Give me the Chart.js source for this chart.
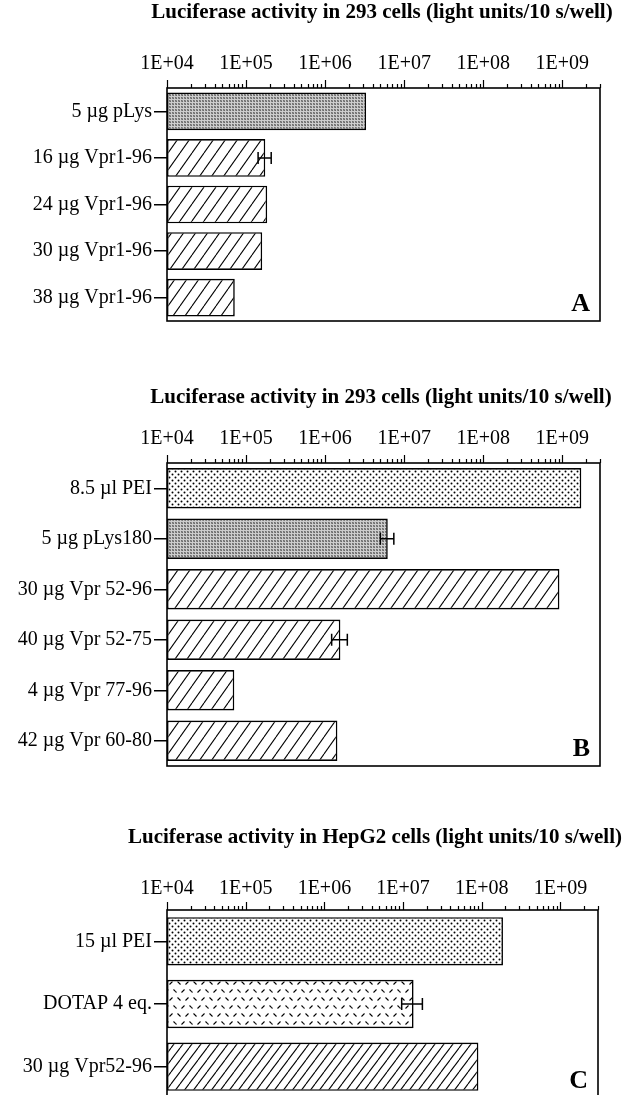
<!DOCTYPE html>
<html>
<head>
<meta charset="utf-8">
<script src="https://cdn.jsdelivr.net/npm/chart.js@4.4.1/dist/chart.umd.min.js"></script>
<style>
  html, body { margin: 0; padding: 0; background: #fff; width: 622px; height: 1095px; overflow: hidden; }
  canvas { position: absolute; left: 0; }
</style>
</head>
<body>
<canvas id="panelA" width="622" height="335" style="top:0px"></canvas>
<canvas id="panelB" width="622" height="400" style="top:380px"></canvas>
<canvas id="panelC" width="622" height="292" style="top:820px"></canvas>
<script>
// ---- data ----
const decadeValues = [1e4, 1e5, 1e6, 1e7, 1e8, 1e9];
const decadeLabels = ['1E+04', '1E+05', '1E+06', '1E+07', '1E+08', '1E+09'];
const axisMin = 1e4;
const axisMax = 3e9;

const titleA = 'Luciferase activity in 293 cells (light units/10 s/well)';
const categoriesA = ['5 µg pLys', '16 µg Vpr1-96', '24 µg Vpr1-96', '30 µg Vpr1-96', '38 µg Vpr1-96'];
const valuesA = [3.3e6, 1.75e5, 1.85e5, 1.6e5, 7.2e4];
const errorsA = [0, 3.3e4, 0, 0, 0];

const titleB = 'Luciferase activity in 293 cells (light units/10 s/well)';
const categoriesB = ['8.5 µl PEI', '5 µg pLys180', '30 µg Vpr 52-96', '40 µg Vpr 52-75', '4 µg Vpr 77-96', '42 µg Vpr 60-80'];
const valuesB = [1.74e9, 6.2e6, 9.2e8, 1.56e6, 7.1e4, 1.43e6];
const errorsB = [0, 1.2e6, 0, 3.5e5, 0, 0];

const titleC = 'Luciferase activity in HepG2 cells (light units/10 s/well)';
const categoriesC = ['15 µl PEI', 'DOTAP 4 eq.', '30 µg Vpr52-96'];
const valuesC = [1.86e8, 1.36e7, 9.06e7];
const errorsC = [0, 4e6, 0];

const panelLetters = ['A', 'B', 'C'];

// ---- fill patterns ----
const SERIF = '"Liberation Serif", "Times New Roman", serif';

function tile(w, h, paint) {
  const c = document.createElement('canvas');
  c.width = w; c.height = h;
  const g = c.getContext('2d');
  g.fillStyle = '#fff';
  g.fillRect(0, 0, w, h);
  paint(g, w, h);
  return c;
}

function meshTile() {
  // fine grey mesh (poly-lysine)
  const levels = [
    [205, 205, 205],
    [205, 110, 142],
    [205, 136, 105]
  ];
  return tile(3, 3, (g) => {
    const img = g.createImageData(3, 3);
    for (let r = 0; r < 3; r++) for (let c = 0; c < 3; c++) {
      const k = (r * 3 + c) * 4, v = levels[r][c];
      img.data[k] = v; img.data[k + 1] = v; img.data[k + 2] = v; img.data[k + 3] = 255;
    }
    g.putImageData(img, 0, 0);
  });
}

function dotTile() {
  // staggered dots (PEI)
  return tile(6, 6, (g) => {
    g.fillStyle = '#000';
    [[1.5, 1.5], [4.5, 4.5]].forEach(([x, y]) => {
      g.beginPath(); g.arc(x, y, 1.0, 0, Math.PI * 2); g.fill();
    });
  });
}

function hatchTile(w, h) {
  // "/" diagonal hatch (Vpr peptides)
  return tile(w, h, (g) => {
    g.strokeStyle = '#000';
    g.lineWidth = 1.1;
    [-w, 0, w].forEach((dx) => {
      g.beginPath(); g.moveTo(dx, h); g.lineTo(dx + w, 0); g.stroke();
    });
  });
}

function dashTile() {
  // short slanted dashes in alternating rows (DOTAP)
  return tile(16, 16, (g) => {
    g.strokeStyle = '#000';
    g.lineWidth = 1.1;
    const seg = (a, b, c, d) => { g.beginPath(); g.moveTo(a, b); g.lineTo(c, d); g.stroke(); };
    seg(1.5, 1.5, 4.5, 4.5);
    seg(9.5, 4.5, 12.5, 1.5);
    seg(5.5, 12.5, 8.5, 9.5);
    seg(13.5, 9.5, 16.5, 12.5);
    seg(-2.5, 9.5, 0.5, 12.5);
  });
}

function patternsFor(ctx) {
  return {
    mesh: ctx.createPattern(meshTile(), 'repeat'),
    dots: ctx.createPattern(dotTile(), 'repeat'),
    hatch: ctx.createPattern(hatchTile(12, 17), 'repeat'),
    hatchFine: ctx.createPattern(hatchTile(9, 12), 'repeat'),
    dashes: ctx.createPattern(dashTile(), 'repeat')
  };
}

// ---- helpers ----
function isDecade(v) {
  const e = Math.log10(v);
  return Math.abs(e - Math.round(e)) < 1e-9;
}

function decadeLabel(v) {
  const i = decadeValues.findIndex((d) => Math.abs(d - v) / d < 1e-6);
  return i >= 0 ? decadeLabels[i] : '';
}

// heading, tick marks, frame, error whiskers, panel letter
const panelDecor = {
  id: 'panelDecor',
  afterDatasetsDraw(chart, args, opts) {
    const { ctx, chartArea: a, scales: { x, y } } = chart;
    const data = chart.data.datasets[0].data;
    ctx.save();
    ctx.strokeStyle = '#000';
    ctx.fillStyle = '#000';

    // error whiskers
    ctx.lineWidth = 1.5;
    opts.errors.forEach((err, i) => {
      if (!err) return;
      const lo = x.getPixelForValue(data[i] - err);
      const hi = x.getPixelForValue(data[i] + err);
      const cy = y.getPixelForValue(i);
      ctx.beginPath();
      ctx.moveTo(lo, cy); ctx.lineTo(hi, cy);
      ctx.moveTo(lo, cy - 6); ctx.lineTo(lo, cy + 6);
      ctx.moveTo(hi, cy - 6); ctx.lineTo(hi, cy + 6);
      ctx.stroke();
    });

    // frame
    ctx.lineWidth = 1.6;
    ctx.strokeRect(a.left, a.top, a.right - a.left, a.bottom - a.top);

    // logarithmic tick marks above the top axis
    ctx.lineWidth = 1.2;
    ctx.beginPath();
    x.ticks.forEach((t) => {
      const px = Math.round(x.getPixelForValue(t.value)) + 0.5;
      const len = isDecade(t.value) ? 8 : 4;
      ctx.moveTo(px, a.top);
      ctx.lineTo(px, a.top - len);
    });
    ctx.stroke();

    // heading
    ctx.font = 'bold 21px ' + SERIF;
    ctx.textAlign = 'center';
    ctx.textBaseline = 'alphabetic';
    ctx.fillText(opts.title, opts.titleX, a.top + opts.titleRise);

    // panel letter
    ctx.font = 'bold 26px ' + SERIF;
    ctx.textAlign = 'right';
    ctx.fillText(opts.letter, a.right - 10, a.bottom - 10);
    ctx.restore();
  }
};

function buildPanel(id, cfg) {
  const canvas = document.getElementById(id);
  const ctx = canvas.getContext('2d');
  const pat = patternsFor(ctx);
  return new Chart(ctx, {
    type: 'bar',
    data: {
      labels: cfg.categories,
      datasets: [{
        data: cfg.values,
        backgroundColor: cfg.fills.map((f) => pat[f]),
        borderColor: '#000',
        borderWidth: 1.6,
        borderSkipped: false,
        barPercentage: cfg.barPercentage,
        categoryPercentage: 1
      }]
    },
    options: {
      indexAxis: 'y',
      responsive: false,
      animation: false,
      devicePixelRatio: 1,
      layout: { padding: { left: 0, top: 0, right: cfg.padRight, bottom: cfg.padBottom } },
      plugins: {
        legend: { display: false },
        tooltip: { enabled: false },
        title: { display: false },
        panelDecor: {
          errors: cfg.errors, letter: cfg.letter, title: cfg.title,
          titleX: cfg.titleX, titleRise: cfg.titleRise
        }
      },
      scales: {
        x: {
          type: 'logarithmic',
          position: 'top',
          min: axisMin,
          max: axisMax,
          afterBuildTicks(scale) {
            const ticks = [];
            for (let e = 4; e <= 9; e++) {
              for (let k = 1; k <= 9; k++) {
                const v = k * Math.pow(10, e);
                if (v <= axisMax) ticks.push({ value: v });
              }
            }
            scale.ticks = ticks;
          },
          afterFit(scale) { scale.height = cfg.axisHeight; },
          grid: { display: false, drawTicks: false },
          border: { display: false },
          ticks: {
            autoSkip: false,
            maxRotation: 0,
            padding: cfg.tickPad,
            color: '#000',
            font: { family: SERIF, size: 20 },
            callback: (v) => decadeLabel(v)
          }
        },
        y: {
          type: 'category',
          afterFit(scale) { scale.width = 167; },
          grid: {
            display: true,
            drawOnChartArea: false,
            drawTicks: true,
            tickLength: 13,
            offset: false,
            color: '#000',
            lineWidth: 1.5
          },
          border: { display: false },
          ticks: {
            padding: 2,
            color: '#000',
            font: { family: SERIF, size: 20 }
          }
        }
      }
    },
    plugins: [panelDecor]
  });
}

buildPanel('panelA', {
  title: titleA, categories: categoriesA, values: valuesA, errors: errorsA,
  fills: ['mesh', 'hatch', 'hatch', 'hatch', 'hatch'],
  letter: panelLetters[0], barPercentage: 0.81,
  axisHeight: 88, tickPad: 12, padRight: 22, padBottom: 12,
  titleX: 382, titleRise: -69.7
});

buildPanel('panelB', {
  title: titleB, categories: categoriesB, values: valuesB, errors: errorsB,
  fills: ['dots', 'mesh', 'hatch', 'hatch', 'hatch', 'hatch'],
  letter: panelLetters[1], barPercentage: 0.8,
  axisHeight: 83, tickPad: 12, padRight: 22, padBottom: 8,
  titleX: 381, titleRise: -59.7
});

buildPanel('panelC', {
  title: titleC, categories: categoriesC, values: valuesC, errors: errorsC,
  fills: ['dots', 'dashes', 'hatchFine'],
  letter: panelLetters[2], barPercentage: 0.77,
  axisHeight: 90, tickPad: 9, padRight: 24, padBottom: 9,
  titleX: 375, titleRise: -66.7
});
</script>
</body>
</html>
